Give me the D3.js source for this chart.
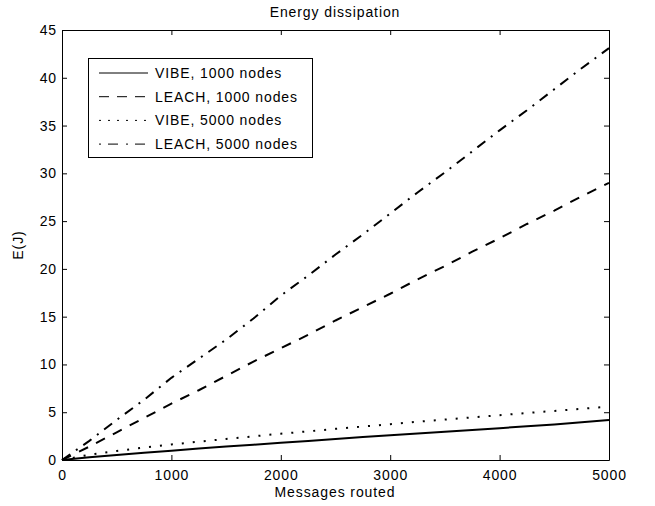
<!DOCTYPE html>
<html>
<head>
<meta charset="utf-8">
<script src="https://d3js.org/d3.v7.min.js"></script>
<style>
  body { margin: 0; background: #fff; }
  svg { display: block; font-family: "Liberation Sans", Arial, sans-serif; }
  .axis text { font-size: 14px; letter-spacing: 0.9px; fill: #000; font-family: "Liberation Sans", Arial, sans-serif; }
  .axis line, .axis path { stroke: #000; }
</style>
</head>
<body>
<svg width="655" height="506"></svg>
<script>

// messages routed
var messages = [0, 250, 500, 750, 1000, 1250, 1500, 1750, 2000, 2250, 2500,
                2750, 3000, 3250, 3500, 3750, 4000, 4250, 4500, 4750, 5000];

var vibe1000  = [0, 0.28, 0.52, 0.76, 0.98, 1.2, 1.4, 1.6, 1.8, 2.0, 2.2,
                 2.4, 2.6, 2.78, 2.96, 3.14, 3.33, 3.52, 3.72, 3.95, 4.19];
var leach1000 = [0, 1.4, 2.9, 4.4, 5.9, 7.3, 8.8, 10.3, 11.7, 13.1, 14.6,
                 16.0, 17.4, 18.9, 20.3, 21.8, 23.2, 24.7, 26.1, 27.6, 29.0];
var vibe5000  = [0, 0.55, 0.95, 1.3, 1.62, 1.92, 2.2, 2.48, 2.75, 3.0, 3.26,
                 3.5, 3.75, 4.0, 4.23, 4.46, 4.69, 4.92, 5.14, 5.36, 5.58];
var leach5000 = [0, 2.0, 4.2, 6.3, 8.6, 10.6, 12.6, 14.8, 17.2, 19.3, 21.5,
                 23.6, 25.8, 28.0, 30.1, 32.3, 34.5, 36.6, 38.8, 41.0, 43.1];

var seriesNames = ["VIBE, 1000 nodes", "LEACH, 1000 nodes", "VIBE, 5000 nodes", "LEACH, 5000 nodes"];
var seriesData = [vibe1000, leach1000, vibe5000, leach5000];
var dashes = ["none", "10,9", "2,9", "10,7,2,7"];
var legendDashes = ["none", "10,8", "2,7", "2,7,10,8"];

var xTicks = [0, 1000, 2000, 3000, 4000, 5000];
var yTicks = [0, 5, 10, 15, 20, 25, 30, 35, 40, 45];

var svg = d3.select("svg");

var x = d3.scaleLinear().domain([0, 5000]).range([62, 609]);
var y = d3.scaleLinear().domain([0, 45]).range([460, 30]);

// axes, ticks pointing inward like matlab
svg.append("g")
    .attr("class", "axis")
    .attr("transform", "translate(0,460)")
    .call(d3.axisBottom(x).tickValues(xTicks).tickFormat(d3.format("d"))
        .tickSizeInner(-5).tickSizeOuter(0).tickPadding(10));

svg.append("g")
    .attr("class", "axis")
    .attr("transform", "translate(62,0)")
    .call(d3.axisLeft(y).tickValues(yTicks).tickFormat(d3.format("d"))
        .tickSizeInner(-5).tickSizeOuter(0).tickPadding(5));

svg.append("g")
    .attr("class", "axis")
    .attr("transform", "translate(0,30)")
    .call(d3.axisTop(x).tickValues(xTicks).tickSizeInner(-5).tickSizeOuter(0).tickFormat(""));

svg.append("g")
    .attr("class", "axis")
    .attr("transform", "translate(609,0)")
    .call(d3.axisRight(y).tickValues(yTicks).tickSizeInner(-5).tickSizeOuter(0).tickFormat(""));

var line = d3.line()
    .x(function(d, i) { return x(messages[i]); })
    .y(function(d) { return y(d); });

svg.append("g")
  .selectAll("path")
  .data(seriesData)
  .enter().append("path")
    .attr("d", line)
    .attr("fill", "none")
    .attr("stroke", "#000")
    .attr("stroke-width", 2)
    .attr("stroke-dasharray", function(d, i) { return dashes[i]; });

// titles
svg.append("text")
    .attr("x", 335)
    .attr("y", 17)
    .attr("text-anchor", "middle")
    .attr("font-size", 14)
    .attr("letter-spacing", 0.9)
    .text("Energy dissipation");

svg.append("text")
    .attr("x", 335)
    .attr("y", 497)
    .attr("text-anchor", "middle")
    .attr("font-size", 14)
    .attr("letter-spacing", 0.9)
    .text("Messages routed");

svg.append("text")
    .attr("transform", "translate(23,245) rotate(-90)")
    .attr("text-anchor", "middle")
    .attr("font-size", 14)
    .attr("letter-spacing", 0.9)
    .text("E(J)");

// legend
var legend = svg.append("g");

legend.append("rect")
    .attr("x", 88.5)
    .attr("y", 58.5)
    .attr("width", 224)
    .attr("height", 99)
    .attr("fill", "#fff")
    .attr("stroke", "#000");

var rows = legend.selectAll("g.row")
    .data(seriesNames)
  .enter().append("g")
    .attr("class", "row")
    .attr("transform", function(d, i) { return "translate(0," + (73 + i * 23.7) + ")"; });

rows.append("line")
    .attr("x1", 99)
    .attr("x2", 148)
    .attr("stroke", "#000")
    .attr("stroke-width", 1)
    .attr("stroke-dasharray", function(d, i) { return legendDashes[i]; });

rows.append("text")
    .attr("x", 155)
    .attr("dy", "0.36em")
    .attr("font-size", 14)
    .attr("letter-spacing", 0.9)
    .text(function(d) { return d; });

</script>
</body>
</html>
